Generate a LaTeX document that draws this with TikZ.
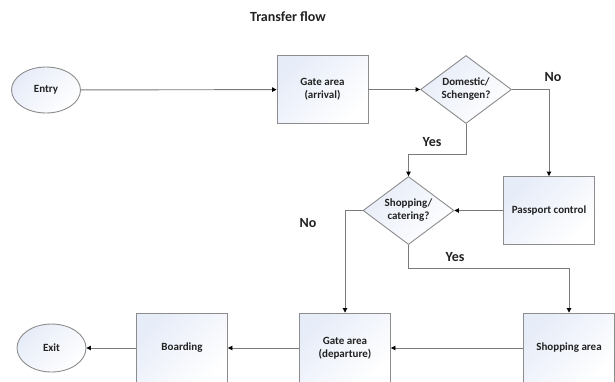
\documentclass[tikz,border=0pt]{standalone}
\usepackage{fontspec}
\setmainfont{Carlito}
\usetikzlibrary{shapes.geometric,arrows.meta}
\definecolor{edgegray}{HTML}{8C8C8C}
\definecolor{linegray}{HTML}{7A7A7A}
\definecolor{tint}{HTML}{E6ECF8}
\definecolor{ink}{HTML}{222222}
\tikzset{
  shaded/.style={draw=edgegray, line width=0.9pt, top color=tint, bottom color=white, shading angle=45},
  box/.style={shaded, rectangle, inner sep=0pt, minimum width=91pt, minimum height=68pt,
    align=center, font=\bfseries\fontsize{11}{13}\selectfont, text=ink},
  lowbox/.style={box, minimum height=70pt},
  decision/.style={shaded, diamond, inner sep=0pt, minimum width=91pt, minimum height=68pt},
  decisiontext/.style={align=center, font=\bfseries\fontsize{11}{13}\selectfont, text=ink},
  terminal/.style={shaded, ellipse, inner sep=0pt, minimum width=69pt, minimum height=46pt,
    font=\bfseries\fontsize{11}{13}\selectfont, text=ink},
  flow/.style={draw=linegray, line width=0.9pt, -{Triangle[length=4.5pt,width=4.5pt,color=black]}},
  tag/.style={font=\bfseries\fontsize{14}{16}\selectfont, text=ink},
}
\begin{document}
\begin{tikzpicture}[x=1pt, y=-1pt]
  \useasboundingbox (0,0) rectangle (615,381);
  \clip (0,0) rectangle (615,381);

  \node[font=\bfseries\fontsize{14}{16}\selectfont, text=ink] (title) at (288,17) {Transfer flow};

  % top row
  \node[terminal] (entry) at (46,90) {Entry};
  \node[box] (garr) at (322.5,89.5) {Gate area\\(arrival)};
  \node[decision, label={[decisiontext]center:Domestic/\\Schengen?}] (dom) at (466,89.5) {};

  % middle row
  \node[decision, label={[decisiontext]center:Shopping/\\catering?}] (shop) at (408.5,210.5) {};
  \node[box] (pass) at (549,210.5) {Passport control};

  % bottom row
  \node[terminal, minimum height=48pt] (exit) at (51.5,348) {Exit};
  \node[lowbox] (board) at (182,348) {Boarding};
  \node[lowbox] (gdep) at (345,348) {Gate area\\(departure)};
  \node[lowbox] (sarea) at (569,348) {Shopping area};

  % connectors
  \draw[flow] (entry) -- (garr);
  \draw[flow] (garr) -- (dom);
  \draw[flow] (dom.east) -| (pass.north);
  \draw[flow] (dom.south) -- ([yshift=-30pt]dom.south) -| (shop.north);
  \draw[flow] (pass) -- (shop);
  \draw[flow] (shop.west) -| (gdep.north);
  \draw[flow] (shop.south) -- ([yshift=-23pt]shop.south) -| (sarea.north);
  \draw[flow] (sarea) -- (gdep);
  \draw[flow] (gdep) -- (board);
  \draw[flow] (board) -- (exit);

  % branch labels
  \node[tag] (no1) at (553,77) {No};
  \node[tag] (yes1) at (432,142) {Yes};
  \node[tag] (no2) at (308,223) {No};
  \node[tag] (yes2) at (455,257) {Yes};
\end{tikzpicture}
\end{document}
